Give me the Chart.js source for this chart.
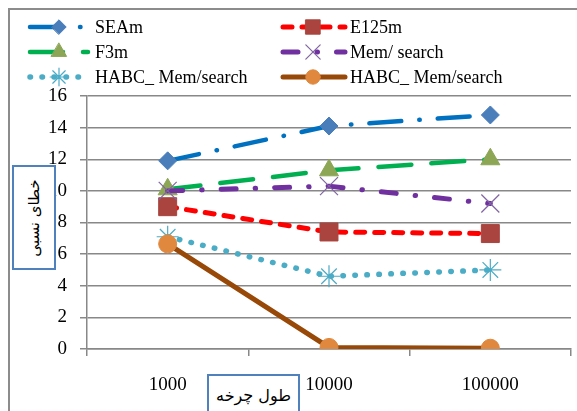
<!DOCTYPE html>
<html>
<head>
<meta charset="utf-8">
<script src="https://cdn.jsdelivr.net/npm/chart.js@4/dist/chart.umd.min.js"></script>
<style>
  html, body { margin: 0; padding: 0; background: #fff; overflow: hidden; }
  #wrap { position: relative; width: 577px; height: 411px; }
  canvas { position: absolute; left: 0; top: 0; }
  .tbox { position: absolute; border: 2px solid #4F81BD; background: #fff; box-sizing: border-box; }
  #xtitle { left: 207px; top: 374px; width: 93px; height: 60px; }
  #xtitle span { position: absolute; left: 0; right: 0; top: 10px; text-align: center; font: 16px "DejaVu Sans", sans-serif; color: #000; }
  #ytitle { left: 12px; top: 165px; width: 44px; height: 105px; }
  #ytitle span { position: absolute; left: 50%; top: 50%; transform: translate(-50%, -50%) rotate(-90deg); white-space: nowrap; font: 15px "DejaVu Sans", sans-serif; color: #000; }
</style>
</head>
<body>
<div id="wrap">
  <canvas id="chart" width="577" height="411"></canvas>
  <div class="tbox" id="ytitle"><span dir="rtl">خطای نسبی</span></div>
  <div class="tbox" id="xtitle"><span dir="rtl">طول چرخه</span></div>
</div>
<script>
// cycle length categories (x axis)
const cycleLengths = ['1000', '10000', '100000'];
const yTicks = { min: 0, max: 16, step: 2 };

// series values
const seamVals     = [11.9, 14.1, 14.8];
const e125mVals    = [9.0, 7.4, 7.3];
const f3mVals      = [10.1, 11.3, 12.0];
const memVals      = [10.0, 10.3, 9.2];
const habcDotVals  = [7.1, 4.6, 5.0];
const habcVals     = [6.65, 0.1, 0.05];

const seriesNames = ['SEAm', 'E125m', 'F3m', 'Mem/ search', 'HABC_ Mem/search', 'HABC_ Mem/search'];

const SERIF = '"Liberation Serif", "Times New Roman", serif';

// style per series: line colour, dash, marker
const styles = [
  { line: '#0070C0', dash: [32, 18, 0.5, 18], width: 4.5, marker: 'rectRot', r: 9, fill: '#4A7EBB', stroke: '#4A7EBB', bw: 1 },
  { line: '#FF0000', dash: [9, 10], width: 5, marker: 'rect', r: 12.7, fill: '#A9443E', stroke: '#A9443E', bw: 1 },
  { line: '#00B050', dash: [33, 20], width: 4.5, marker: 'triangle', r: 11, fill: '#8DA655', stroke: '#8DA655', bw: 1 },
  { line: '#7030A0', dash: [15, 19, 0.5, 19], width: 5, marker: 'crossRot', r: 12.7, fill: '#7F5BA6', stroke: '#8064A2', bw: 1.2 },
  { line: '#4BACC6', dash: [0.5, 11.5], width: 5.5, marker: 'star', r: 11, fill: '#4BACC6', stroke: '#4BACC6', bw: 1.2 },
  { line: '#984807', dash: [], width: 5, marker: 'circle', r: 9, fill: '#E0883E', stroke: '#E0883E', bw: 1 },
];

const values = [seamVals, e125mVals, f3mVals, memVals, habcDotVals, habcVals];

const datasets = values.map((data, i) => {
  const s = styles[i];
  return {
    label: seriesNames[i],
    data,
    borderColor: s.line,
    borderWidth: s.width,
    borderDash: s.dash,
    borderCapStyle: 'round',
    borderJoinStyle: 'round',
    tension: 0,
    fill: false,
    pointStyle: s.marker,
    pointRadius: s.r,
    pointHoverRadius: s.r,
    pointBackgroundColor: s.fill,
    pointBorderColor: s.stroke,
    pointBorderWidth: s.bw,
    order: values.length - i, // later series on top, like the original
  };
});

// legend: [dataset index, column, row]
const legendSlots = [[0, 0, 0], [1, 1, 0], [2, 0, 1], [3, 1, 1], [4, 0, 2], [5, 1, 2]];
const legendCols = [{ x0: 30, x1: 88, mx: 59, tx: 95 }, { x0: 283, x1: 345, mx: 313, tx: 350 }];
const legendRows = [27, 52, 77];

const framePlugin = {
  id: 'frame',
  beforeDraw(chart) {
    const ctx = chart.ctx;
    ctx.save();
    ctx.fillStyle = '#fff';
    ctx.fillRect(0, 0, chart.width, chart.height);
    ctx.strokeStyle = '#8c8c8c';
    ctx.lineWidth = 2;
    ctx.beginPath();
    ctx.moveTo(9, chart.height);
    ctx.lineTo(9, 9);
    ctx.lineTo(chart.width, 9);
    ctx.stroke();
    ctx.restore();
  },
  afterDraw(chart) {
    const ctx = chart.ctx;
    legendSlots.forEach(([i, c, r]) => {
      const s = styles[i];
      const col = legendCols[c];
      const y = legendRows[r];
      ctx.save();
      ctx.strokeStyle = s.line;
      ctx.lineWidth = s.width;
      ctx.lineCap = 'round';
      ctx.setLineDash(s.dash);
      ctx.beginPath();
      ctx.moveTo(col.x0, y);
      ctx.lineTo(col.x1, y);
      ctx.stroke();
      ctx.setLineDash([]);
      ctx.fillStyle = s.fill;
      ctx.strokeStyle = s.stroke;
      ctx.lineWidth = s.bw;
      Chart.helpers.drawPoint(ctx, { pointStyle: s.marker, radius: s.r * 0.8, rotation: 0, borderWidth: s.bw }, col.mx, y);
      ctx.fillStyle = '#000';
      ctx.font = '18px ' + SERIF;
      ctx.textBaseline = 'middle';
      ctx.textAlign = 'left';
      ctx.fillText(seriesNames[i], col.tx, y + 1);
      ctx.restore();
    });
  },
};

new Chart(document.getElementById('chart'), {
  type: 'line',
  data: { labels: cycleLengths, datasets },
  options: {
    responsive: false,
    animation: false,
    events: [],
    layout: { autoPadding: false, padding: { top: 96, right: 6, left: 0, bottom: 0 } },
    plugins: { legend: { display: false }, tooltip: { enabled: false } },
    scales: {
      x: {
        offset: true,
        grid: { offset: true, drawOnChartArea: false, drawTicks: true, tickLength: 7, color: '#888', lineWidth: 1.5 },
        border: { display: true, color: '#888', width: 1.5 },
        ticks: { color: '#000', padding: 18, font: { family: SERIF, size: 19 } },
        afterFit(s) { s.height = 62; s.paddingLeft = 0; s.paddingRight = 0; },
      },
      y: {
        min: yTicks.min,
        max: yTicks.max,
        ticks: { stepSize: yTicks.step, color: '#000', padding: 13, font: { family: SERIF, size: 19 } },
        grid: { color: '#888', lineWidth: 1.5, tickLength: 7 },
        border: { display: true, color: '#888', width: 1.5 },
        afterFit(s) { s.width = 87; s.paddingTop = 0; s.paddingBottom = 0; },
      },
    },
  },
  plugins: [framePlugin],
});
</script>
</body>
</html>
